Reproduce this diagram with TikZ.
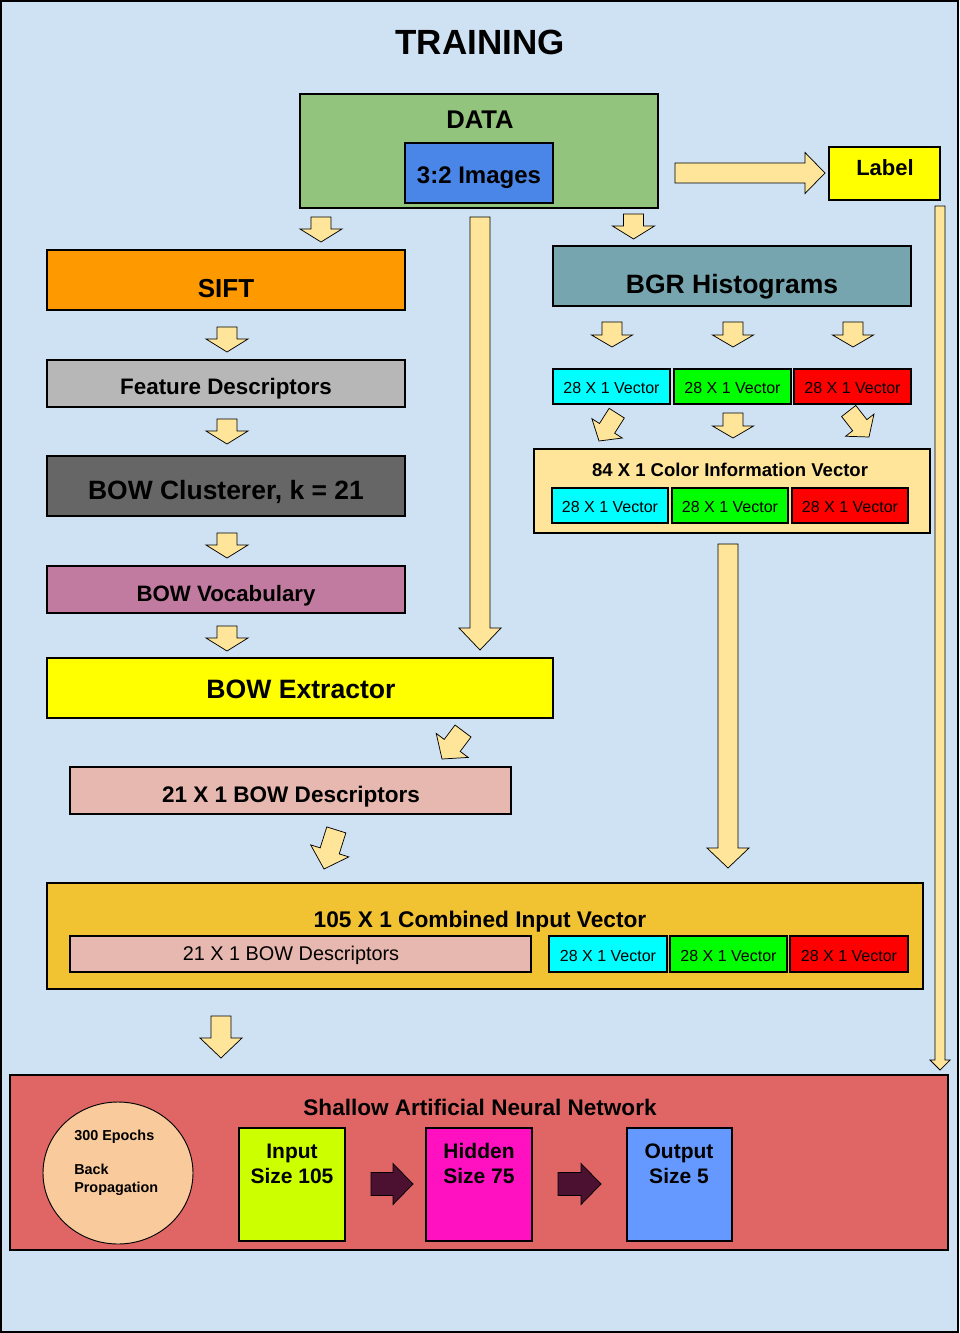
\documentclass[tikz,border=0pt]{standalone}
\usepackage{fontspec}
\setmainfont{Liberation Sans}
\usetikzlibrary{shapes.geometric}

\definecolor{bg}{HTML}{CFE2F3}
\definecolor{arrowfill}{HTML}{FFE599}
\definecolor{cdata}{HTML}{93C47D}
\definecolor{cimg}{HTML}{4A86E8}
\definecolor{cyel}{HTML}{FFFF00}
\definecolor{csift}{HTML}{FF9900}
\definecolor{cbgr}{HTML}{76A5AF}
\definecolor{cfd}{HTML}{B7B7B7}
\definecolor{cclus}{HTML}{666666}
\definecolor{cvoc}{HTML}{C27BA0}
\definecolor{cbowd}{HTML}{E6B8AF}
\definecolor{ccolv}{HTML}{FFE599}
\definecolor{ccomb}{HTML}{F1C232}
\definecolor{ccyan}{HTML}{00FFFF}
\definecolor{cgreen}{HTML}{00FF00}
\definecolor{cred}{HTML}{FF0000}
\definecolor{cann}{HTML}{E06666}
\definecolor{ccirc}{HTML}{F9CB9C}
\definecolor{cinp}{HTML}{CCFF00}
\definecolor{chid}{HTML}{FF10C0}
\definecolor{cout}{HTML}{6699FF}
\definecolor{cdark}{HTML}{4C1130}

% font size given in pt
\newcommand\fs[1]{\fontsize{#1}{#1}\selectfont}

% rectangle node from corner (x1,y1) to corner (x2,y2)
\newcommand\rbox[6]{%
  \node[box,#6,minimum width={((#4)-(#2))*0.75pt},minimum height={((#5)-(#3))*0.75pt}]
    (#1) at ({((#2)+(#4))/2},{((#3)+(#5))/2}) {};}

% block arrow: tip x, tip y, direction angle, total length, shaft half width, head half width, head length
\newcommand\barrow[8][blk]{%
  \begin{scope}[shift={(#2,#3)},rotate=#4]
    \draw[#1] (0,0) -- (-#8,#7) -- (-#8,#6) -- (-#5,#6) -- (-#5,-#6) -- (-#8,-#6) -- (-#8,-#7) -- cycle;
  \end{scope}}

\begin{document}
\begin{tikzpicture}[x=0.75pt,y=-0.75pt,
  box/.style={draw=black,line width=0.8pt,inner sep=0pt,outer sep=0pt},
  blk/.style={draw=black,line width=0.55pt,fill=arrowfill,line join=miter},
  dark/.style={draw=black,line width=0.55pt,fill=cdark,line join=miter},
  txt/.style={inner sep=0pt,anchor=base,text=black},
  bold/.style={font=\fs{#1}\bfseries},
  reg/.style={font=\fs{#1}}]

\useasboundingbox (0,0) rectangle (959,1333);
\fill[bg] (0,0) rectangle (959,1333);
\draw[line width=1.5pt] (1,1) rectangle (958,1332);

% ---- boxes ----
\rbox{data}{300}{94}{658}{208}{fill=cdata}
\rbox{img}{405}{143}{553}{203}{fill=cimg}
\rbox{label}{829}{147}{940}{200}{fill=cyel}
\rbox{sift}{47}{250}{405}{310}{fill=csift}
\rbox{bgr}{553}{246}{911}{306}{fill=cbgr}
\rbox{fd}{47}{360}{405}{407}{fill=cfd}
\rbox{clus}{47}{456}{405}{516}{fill=cclus}
\rbox{voc}{47}{566}{405}{613}{fill=cvoc}
\rbox{ext}{47}{658}{553}{718}{fill=cyel}
\rbox{bowd}{70}{767}{511}{814}{fill=cbowd}
\rbox{v1c}{553}{369}{670}{404}{fill=ccyan}
\rbox{v1g}{674}{369}{791}{404}{fill=cgreen}
\rbox{v1r}{794}{369}{911}{404}{fill=cred}
\rbox{colv}{534}{449}{930}{533}{fill=ccolv}
\rbox{v2c}{552}{488}{668}{523}{fill=ccyan}
\rbox{v2g}{672}{488}{788}{523}{fill=cgreen}
\rbox{v2r}{792}{488}{908}{523}{fill=cred}
\rbox{comb}{47}{883}{923}{989}{fill=ccomb}
\rbox{cbow}{70}{936}{531}{972}{fill=cbowd}
\rbox{v3c}{549}{936}{667}{972}{fill=ccyan}
\rbox{v3g}{670}{936}{787}{972}{fill=cgreen}
\rbox{v3r}{790}{936}{908}{972}{fill=cred}
\rbox{ann}{10}{1075}{948}{1250}{fill=cann}
\node[ellipse,draw=black,line width=0.7pt,fill=ccirc,inner sep=0pt,
  minimum width=150*0.75pt,minimum height=142*0.75pt] (circ) at (118,1173) {};
\rbox{inp}{239}{1128}{345}{1241}{fill=cinp}
\rbox{hid}{426}{1128}{532}{1241}{fill=chid}
\rbox{out}{627}{1128}{732}{1241}{fill=cout}

% ---- block arrows ----
\barrow{825}{173}{0}{150}{10}{20.5}{20}
\barrow{940}{1070}{-90}{864}{5}{10}{10}
\barrow{480}{650}{-90}{433}{10}{21}{22}
\barrow{728}{868}{-90}{324}{10}{21}{20}
\barrow{321}{242}{-90}{25}{10}{21}{13}
\barrow{633.5}{239}{-90}{25}{10}{21}{13}
\barrow{227}{352}{-90}{25}{10}{21}{13}
\barrow{227}{444}{-90}{25}{10}{21}{13}
\barrow{227}{558}{-90}{25}{10}{21}{13}
\barrow{227}{651}{-90}{25}{10}{21}{13}
\barrow{612}{347}{-90}{25}{10}{20.5}{12}
\barrow{733}{347}{-90}{25}{10}{20.5}{12}
\barrow{853}{347}{-90}{25}{10}{20.5}{12}
\barrow{733}{438}{-90}{25}{10}{20.5}{12}
\barrow{599}{441}{-122.5}{33}{9}{18}{15}
\barrow{869}{437}{-52}{33}{9}{18}{15}
\barrow{442}{759}{-126.9}{35}{10}{20}{17}
\barrow{324}{869}{-107.5}{41}{10}{20}{19}
\barrow{221}{1058}{-90}{42}{10}{21}{20}
\barrow[dark]{413}{1184}{0}{42}{11.5}{20.5}{20}
\barrow[dark]{601}{1184}{0}{43}{11.5}{20.5}{20}

% ---- texts ----
\node[txt,bold=26.25] (t-title) at (480,55) {TRAINING};
\node[txt,bold=19.2] (t-data) at (480,129) {DATA};
\node[txt,bold=18] (t-img) at (479,184) {3:2 Images};
\node[txt,bold=16.5] (t-label) at (885,176) {Label};
\node[txt,bold=19.5] (t-sift) at (226,298) {SIFT};
\node[txt,bold=19.9] (t-bgr) at (732,294) {BGR Histograms};
\node[txt,bold=16.8] (t-fd) at (226,394) {Feature Descriptors};
\node[txt,bold=19.85] (t-clus) at (226,499) {BOW Clusterer, k = 21};
\node[txt,bold=16.7] (t-voc) at (226,601) {BOW Vocabulary};
\node[txt,bold=19.95] (t-ext) at (301,698) {BOW Extractor};
\node[txt,bold=16.9] (t-bowd) at (291,802) {21 X 1 BOW Descriptors};
\node[txt,bold=13.9] (t-colv) at (730,476) {84 X 1 Color Information Vector};
\node[txt,bold=17] (t-comb) at (480,927) {105 X 1 Combined Input Vector};
\node[txt,reg=14.9] (t-cbow) at (291,960) {21 X 1 BOW Descriptors};
\foreach \n/\y in {v1c/393,v1g/393,v1r/393,v2c/512,v2g/512,v2r/512,v3c/961,v3g/961,v3r/961}
  \node[txt,reg=12] (t-\n) at (\n.center |- 0,\y) {28 X 1 Vector};
\node[txt,bold=16.9] (t-ann) at (480,1115) {Shallow Artificial Neural Network};
\node[txt,bold=10.8,anchor=base west] (t-ep) at (74,1140) {300 Epochs};
\node[txt,bold=10.8,anchor=base west] (t-bp1) at (74,1174) {Back};
\node[txt,bold=10.8,anchor=base west] (t-bp2) at (74,1192) {Propagation};
\node[txt,bold=15.75] (t-inp1) at (292,1158) {Input};
\node[txt,bold=15.75] (t-inp2) at (292,1183) {Size 105};
\node[txt,bold=15.75] (t-hid1) at (479,1158) {Hidden};
\node[txt,bold=15.75] (t-hid2) at (479,1183) {Size 75};
\node[txt,bold=15.75] (t-out1) at (679,1158) {Output};
\node[txt,bold=15.75] (t-out2) at (679,1183) {Size 5};
\end{tikzpicture}
\end{document}
